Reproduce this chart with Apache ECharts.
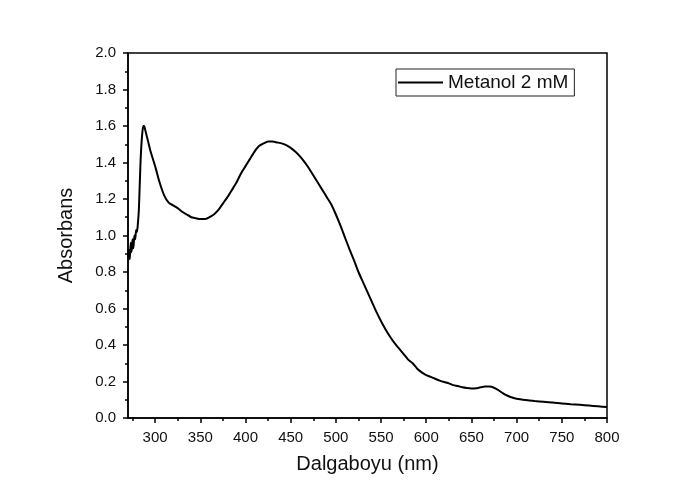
<!DOCTYPE html>
<html>
<head>
<meta charset="utf-8">
<script src="https://cdn.jsdelivr.net/npm/echarts@6/dist/echarts.min.js"></script>
<style>
html,body{margin:0;padding:0;background:#fff;}
#chart{width:694px;height:503px;}
</style>
</head>
<body>
<div id="chart"></div>
<script>
const seriesName = 'Metanol 2 mM';
const wavelength = [270,271,272,273,274,275,276,277,278,279,280,281,282,283,284,285,286,287,288,289,290,292,295,300,305,310,315,320,325,330,335,340,345,350,355,360,365,370,375,380,385,390,395,400,405,410,415,420,425,430,435,440,445,450,455,460,465,470,475,480,485,490,495,500,505,510,515,520,525,530,535,540,545,550,555,560,565,570,575,580,585,590,595,600,605,610,615,620,625,630,635,640,645,650,655,660,665,670,675,680,685,690,695,700,710,720,730,740,750,760,770,780,790,800];
const absorbance = [0.88,0.92,0.87,0.96,0.91,0.98,0.93,1.00,0.98,1.03,1.02,1.07,1.14,1.28,1.42,1.51,1.57,1.60,1.60,1.58,1.56,1.52,1.46,1.38,1.29,1.22,1.18,1.165,1.15,1.13,1.115,1.10,1.095,1.09,1.09,1.10,1.115,1.14,1.175,1.21,1.25,1.29,1.34,1.38,1.42,1.46,1.49,1.505,1.515,1.515,1.51,1.505,1.495,1.48,1.46,1.435,1.405,1.37,1.33,1.29,1.25,1.21,1.17,1.115,1.055,0.99,0.925,0.865,0.80,0.745,0.69,0.635,0.58,0.53,0.485,0.445,0.41,0.38,0.35,0.32,0.30,0.27,0.25,0.235,0.225,0.215,0.205,0.197,0.19,0.18,0.175,0.168,0.164,0.162,0.163,0.168,0.172,0.172,0.166,0.152,0.135,0.122,0.112,0.105,0.098,0.093,0.089,0.085,0.079,0.075,0.072,0.068,0.064,0.060];
const xMajorTicks = [300,350,400,450,500,550,600,650,700,750,800];
const xMinorTicks = [275,325,375,425,475,525,575,625,675,725,775];
const xAxisTitle = 'Dalgaboyu (nm)';
const yAxisTitle = 'Absorbans';

const font = 'Liberation Sans';
const chart = echarts.init(document.getElementById('chart'), null, {renderer:'canvas'});
const data = wavelength.map((w,i)=>[w, absorbance[i]]);
chart.setOption({
  animation:false,
  backgroundColor:'#fff',
  grid:{left:128,right:87,top:53,bottom:85,show:true,borderColor:'#000',borderWidth:1.5,backgroundColor:'transparent'},
  legend:{
    left:396, top:69,
    data:[{name:seriesName, icon:'rect'}],
    itemWidth:45, itemHeight:2,
    borderColor:'#222', borderWidth:1, borderRadius:0,
    padding:[4,6,4,2],
    textStyle:{fontFamily:font,fontSize:19,color:'#111'}
  },
  xAxis:[{
    type:'value', min:270, max:800,
    name:xAxisTitle, nameLocation:'middle', nameGap:36,
    nameTextStyle:{fontFamily:font,fontSize:20,color:'#111'},
    axisLine:{show:true,onZero:false,lineStyle:{color:'#000',width:1.5}},
    axisTick:{show:true,inside:false,length:5,customValues:xMajorTicks,lineStyle:{color:'#000',width:1.5}},
    axisLabel:{show:true,customValues:xMajorTicks,margin:12,fontFamily:font,fontSize:15,color:'#111'},
    splitLine:{show:false}
  },{
    type:'value', min:270, max:800, position:'bottom',
    axisLine:{show:false},
    axisTick:{show:true,inside:false,length:3,customValues:xMinorTicks,lineStyle:{color:'#000',width:1.5}},
    axisLabel:{show:false},
    splitLine:{show:false}
  }],
  yAxis:{
    type:'value', min:0, max:2, interval:0.2,
    name:yAxisTitle, nameLocation:'middle', nameGap:52,
    nameTextStyle:{fontFamily:font,fontSize:20,color:'#111'},
    axisLine:{show:true,onZero:false,lineStyle:{color:'#000',width:1.5}},
    axisTick:{show:true,inside:false,length:5,lineStyle:{color:'#000',width:1.5}},
    minorTick:{show:true,splitNumber:2,length:3,lineStyle:{color:'#000',width:1.5}},
    axisLabel:{margin:12,fontFamily:font,fontSize:15,color:'#111',formatter:v=>v.toFixed(1)},
    splitLine:{show:false}
  },
  series:[{
    name:seriesName, type:'line', data:data, xAxisIndex:0,
    showSymbol:false, smooth:0.2,
    lineStyle:{color:'#000',width:2},
    itemStyle:{color:'#000'}
  }]
});
</script>
</body>
</html>
